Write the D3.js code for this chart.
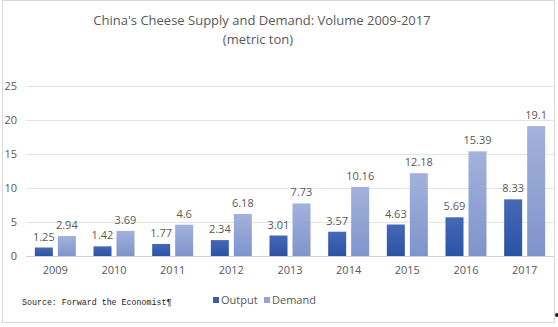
<!DOCTYPE html>
<html>
<head>
<meta charset="utf-8">
<script src="https://cdn.jsdelivr.net/npm/d3@7"></script>
<style>
  body { margin: 0; background: #fff; }
  text { font-family: "Open Sans", "Noto Sans", sans-serif; fill: #595959; }
</style>
</head>
<body>
<div id="chart"></div>
<script>
var years = ["2009", "2010", "2011", "2012", "2013", "2014", "2015", "2016", "2017"];
var output = [1.25, 1.42, 1.77, 2.34, 3.01, 3.57, 4.63, 5.69, 8.33];
var demand = [2.94, 3.69, 4.6, 6.18, 7.73, 10.16, 12.18, 15.39, 19.1];
var yTicks = [0, 5, 10, 15, 20, 25];
var seriesNames = ["Output", "Demand"];

var W = 558, H = 327;
var margin = {top: 86, right: 4, bottom: 71, left: 26},
    width = W - margin.left - margin.right,
    height = H - margin.top - margin.bottom;

var svg = d3.select("#chart")
  .append("svg")
    .attr("width", W)
    .attr("height", H);

// gradients for the two series
var defs = svg.append("defs");
function grad(id, top, bottom) {
  var g = defs.append("linearGradient").attr("id", id)
    .attr("x1", 0).attr("y1", 0).attr("x2", 0).attr("y2", 1);
  g.append("stop").attr("offset", "0%").attr("stop-color", top);
  g.append("stop").attr("offset", "100%").attr("stop-color", bottom);
}
grad("gOut", "#4668b6", "#2a52a5");
grad("gDem", "#a3b2dc", "#7f94cb");

// outer frame
svg.append("rect")
  .attr("x", 2.5).attr("y", 0.5)
  .attr("width", 552).attr("height", 322)
  .attr("fill", "none")
  .attr("stroke", "#d9d9d9");

svg.append("text")
  .attr("x", 262).attr("y", 25)
  .attr("text-anchor", "middle")
  .style("font-size", "13px")
  .text("China's Cheese Supply and Demand: Volume 2009-2017");

svg.append("text")
  .attr("x", 258).attr("y", 44)
  .attr("text-anchor", "middle")
  .style("font-size", "13px")
  .text("(metric ton)");

var g = svg.append("g")
  .attr("transform", "translate(" + margin.left + "," + margin.top + ")");

var x = d3.scaleBand().domain(years).range([0, width]);
var y = d3.scaleLinear().domain([0, 25]).range([height, 0]);

// gridlines
g.selectAll(".grid")
  .data(yTicks)
  .enter().append("line")
    .attr("x1", 0).attr("x2", width)
    .attr("y1", function(d) { return y(d) + 0.5; })
    .attr("y2", function(d) { return y(d) + 0.5; })
    .attr("stroke", function(d) { return d === 0 ? "#d0d0d0" : "#e4e4e4"; });

g.selectAll(".ytick")
  .data(yTicks)
  .enter().append("text")
    .attr("x", -9)
    .attr("y", function(d) { return y(d) + 4; })
    .attr("text-anchor", "end")
    .style("font-size", "11px")
    .text(function(d) { return d; });

g.selectAll(".xtick")
  .data(years)
  .enter().append("text")
    .attr("x", function(d) { return x(d) + x.bandwidth() / 2; })
    .attr("y", height + 18)
    .attr("text-anchor", "middle")
    .style("font-size", "11px")
    .text(function(d) { return d; });

var barW = 18, gap = 5;
var series = [
  {values: output, fill: "url(#gOut)", dx: -gap / 2 - barW},
  {values: demand, fill: "url(#gDem)", dx: gap / 2}
];

series.forEach(function(s) {
  g.selectAll(null)
    .data(s.values)
    .enter().append("rect")
      .attr("x", function(d, i) { return x(years[i]) + x.bandwidth() / 2 + s.dx; })
      .attr("y", function(d) { return y(d); })
      .attr("width", barW)
      .attr("height", function(d) { return height - y(d); })
      .attr("fill", s.fill);

  g.selectAll(null)
    .data(s.values)
    .enter().append("text")
      .attr("x", function(d, i) { return x(years[i]) + x.bandwidth() / 2 + s.dx + barW / 2; })
      .attr("y", function(d) { return y(d) - 7; })
      .attr("text-anchor", "middle")
      .style("font-size", "11px")
      .text(function(d) { return d; });
});

// source note
svg.append("text")
  .attr("x", 22).attr("y", 305)
  .style("font-family", "'Liberation Mono', monospace")
  .style("font-size", "8.3px")
  .style("fill", "#222")
  .text("Source: Forward the Economist\u00b6");

// legend
var legend = svg.append("g").attr("transform", "translate(213,303)");
var legX = [0, 51];
seriesNames.forEach(function(n, i) {
  legend.append("rect")
    .attr("x", legX[i]).attr("y", -6)
    .attr("width", 6).attr("height", 6)
    .attr("fill", i === 0 ? "#3a5eac" : "#93a5d5");
  legend.append("text")
    .attr("x", legX[i] + 8).attr("y", 1)
    .style("font-size", "11px")
    .text(n);
});

svg.append("circle")
  .attr("cx", 557).attr("cy", 315).attr("r", 2)
  .attr("fill", "#222");
</script>
</body>
</html>
